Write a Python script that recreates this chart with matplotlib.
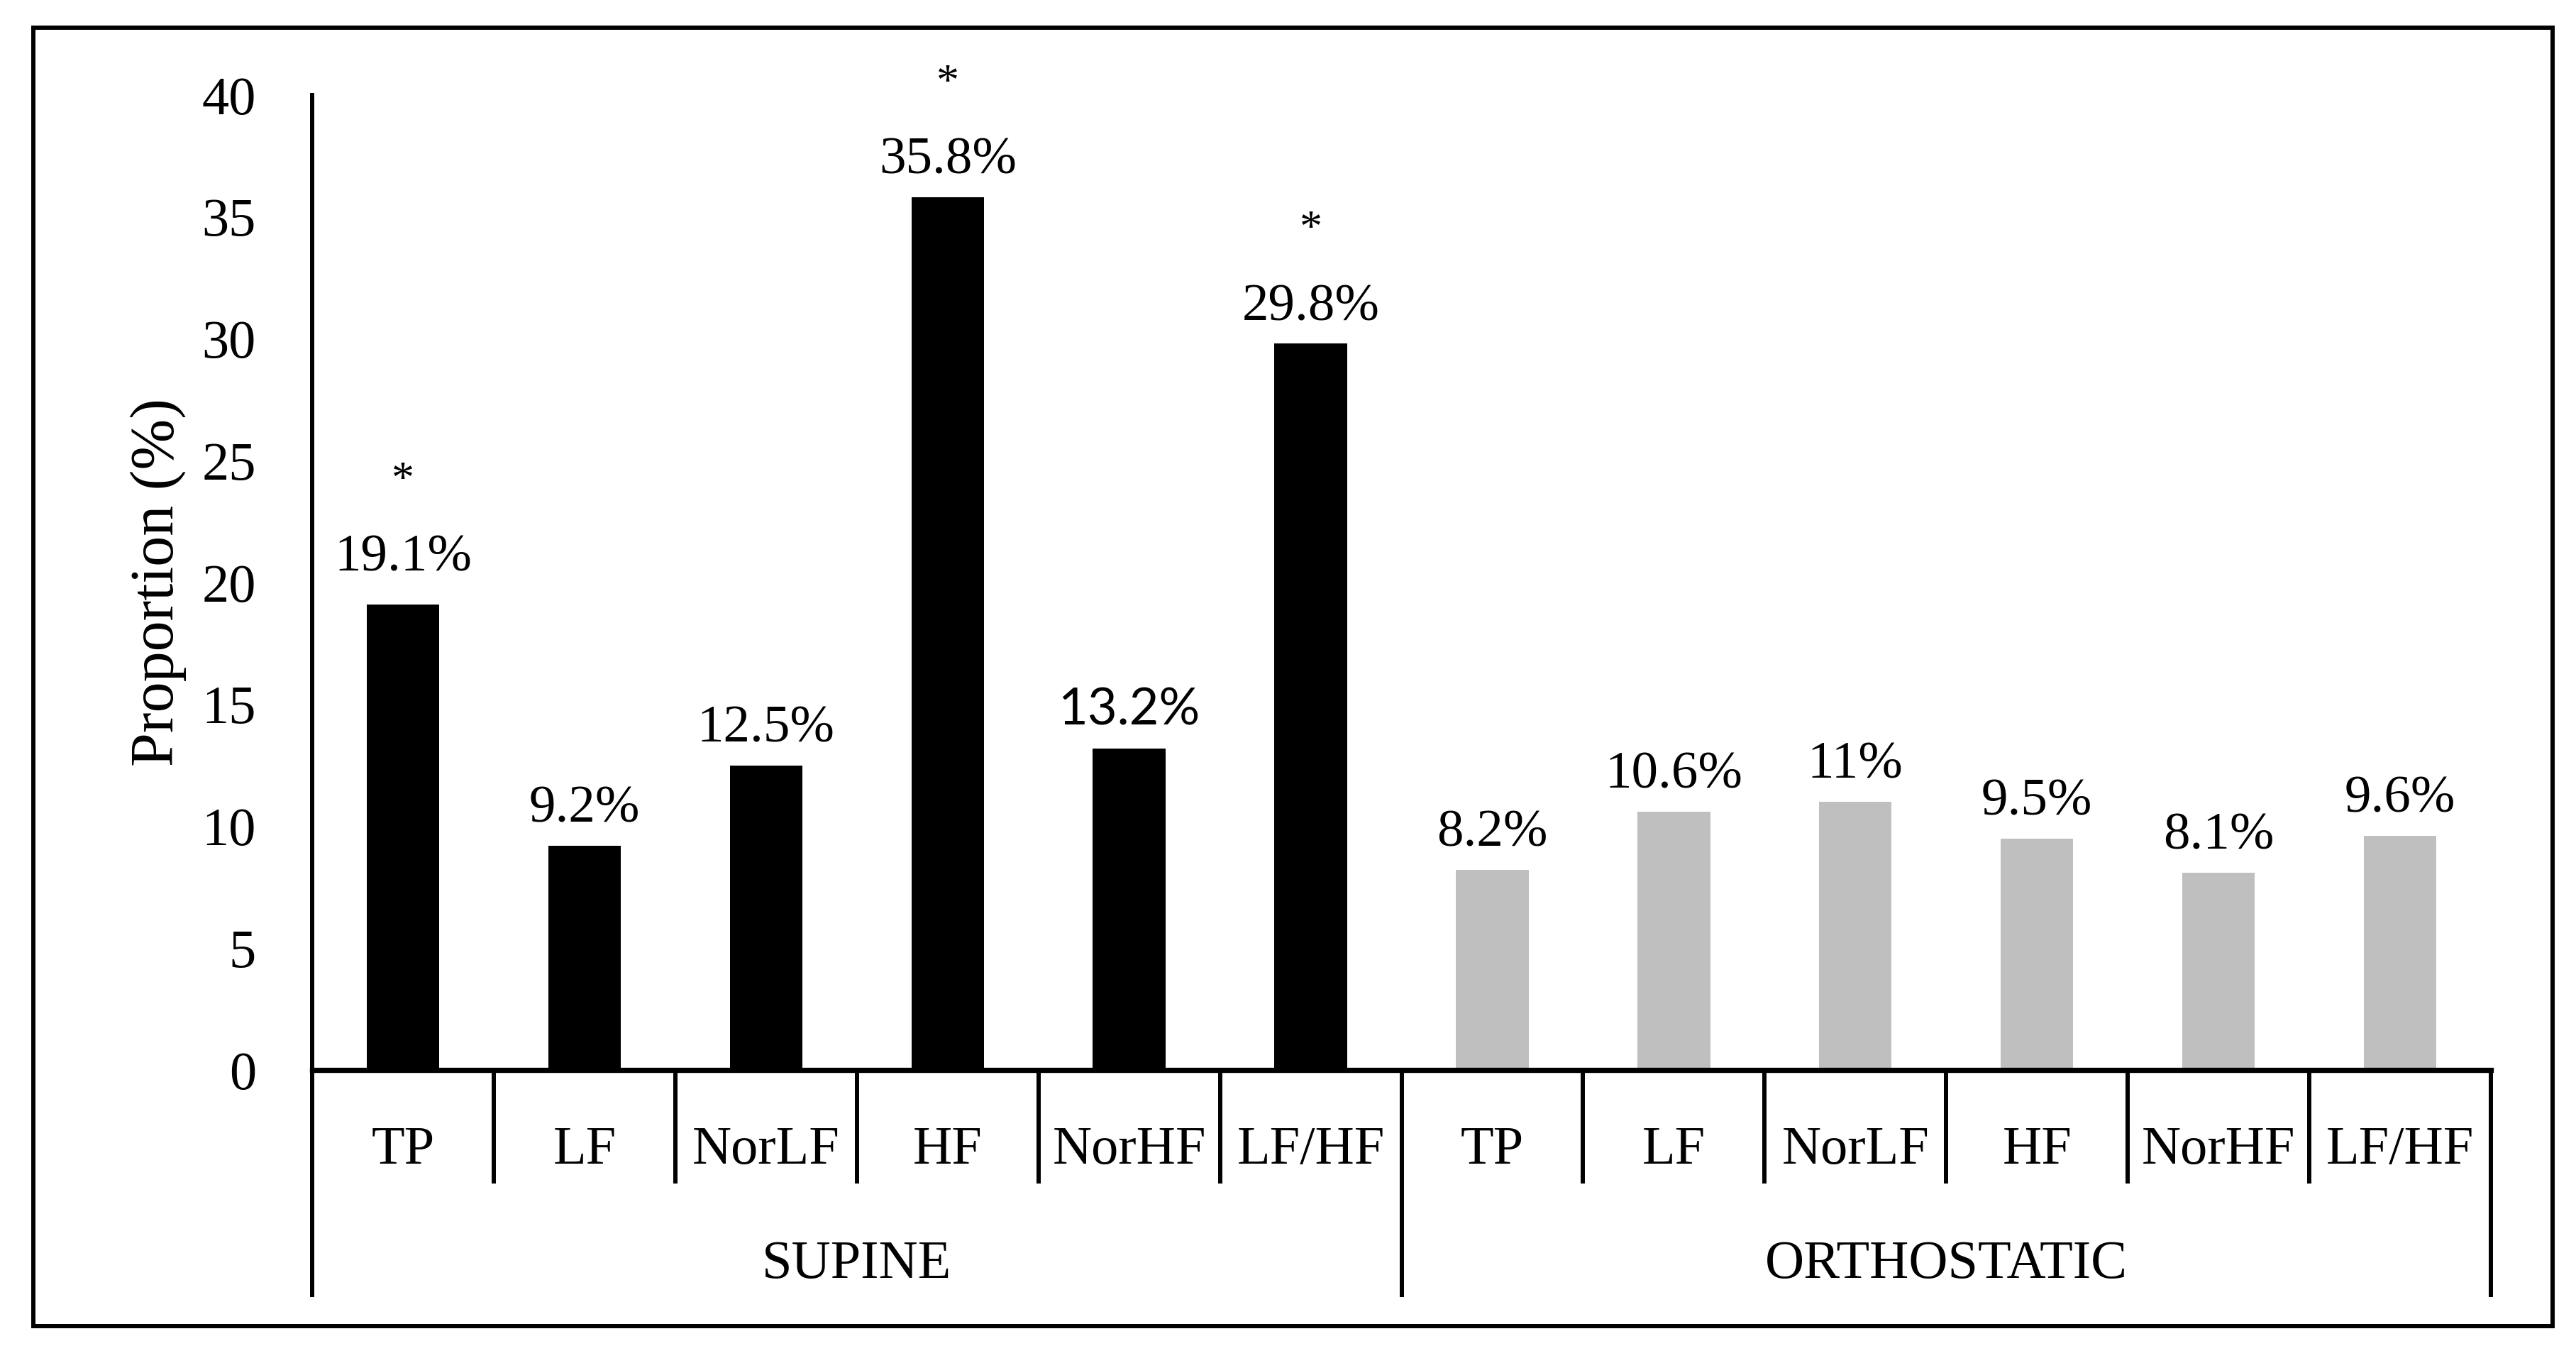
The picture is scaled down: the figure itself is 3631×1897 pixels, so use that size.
import numpy as np
import matplotlib
matplotlib.use('Agg')
import matplotlib.pyplot as plt
from matplotlib.patches import Rectangle
import matplotlib.transforms as mtransforms

# data
groups = ['SUPINE', 'ORTHOSTATIC']
measures = ['TP', 'LF', 'NorLF', 'HF', 'NorHF', 'LF/HF']
supine = [19.1, 9.2, 12.5, 35.8, 13.2, 29.8]
orthostatic = [8.2, 10.6, 11, 9.5, 8.1, 9.6]
supine_sig = [True, False, False, True, False, True]
orthostatic_sig = [False, False, False, False, False, False]
yticks = [0, 5, 10, 15, 20, 25, 30, 35, 40]

plt.rcParams['font.family'] = ['Liberation Serif', 'DejaVu Serif']

fig = plt.figure(figsize=(36.31, 18.97), dpi=100)
ax = fig.add_axes([0.12118, 0.20506, 0.84577, 0.72430])

n = len(measures)
values = supine + orthostatic
sig = supine_sig + orthostatic_sig
colors = ['black'] * n + ['#bfbfbf'] * n
x = np.arange(len(values))

ax.bar(x, values, width=0.4, color=colors, zorder=2)

for i, v in enumerate(values):
    # the NorHF supine label is in a sans font in the original
    fam = ['Lato', 'DejaVu Sans'] if i == 4 else ['Liberation Serif']
    fs = 52 if i == 4 else 54
    off = 34 if i == 0 else 24  # first label sits a bit higher in the original
    ax.annotate('%g%%' % v, xy=(i, v), xytext=(0, off), textcoords='offset points',
                ha='center', va='baseline', fontsize=fs, family=fam)
    if sig[i]:
        ax.annotate('*', xy=(i, v), xytext=(0, off + 80), textcoords='offset points',
                    ha='center', va='baseline', fontsize=46)

ax.set_xlim(-0.5, len(values) - 0.5)
ax.set_ylim(0, 40)
ax.set_yticks(yticks)
ax.set_xticks([])
ax.tick_params(axis='y', length=0, pad=57, labelsize=55)

for s in ['top', 'right']:
    ax.spines[s].set_visible(False)
ax.spines['left'].set_linewidth(4.3)
ax.spines['bottom'].set_linewidth(5.3)

ax.text(-0.0705, 0.5, 'Proportion (%)', transform=ax.transAxes, rotation=90,
        ha='center', va='center', fontsize=62)

# two-level category axis
trans = mtransforms.blended_transform_factory(ax.transData, ax.transAxes)
for i in range(len(values)):
    ax.text(i, -0.0961, measures[i % n], transform=trans, ha='center',
            va='baseline', fontsize=55)
for g, name in enumerate(groups):
    ax.text(g * n + (n - 1) / 2, -0.2132, name, transform=trans, ha='center',
            va='baseline', fontsize=55)

for b in np.arange(-0.5, len(values), 1.0):
    bottom = -0.2329 if (b + 0.5) % n == 0 else -0.1164
    ax.plot([b, b], [0, bottom], transform=trans, color='black', lw=4.3,
            clip_on=False, solid_capstyle='butt')

# outer frame
fig.add_artist(Rectangle((0.01294, 0.01476), 0.99091 - 0.01294, 0.97944 - 0.01476,
                         transform=fig.transFigure, fill=False, lw=4.3,
                         edgecolor='black'))

fig.savefig('out.png', dpi=100)
